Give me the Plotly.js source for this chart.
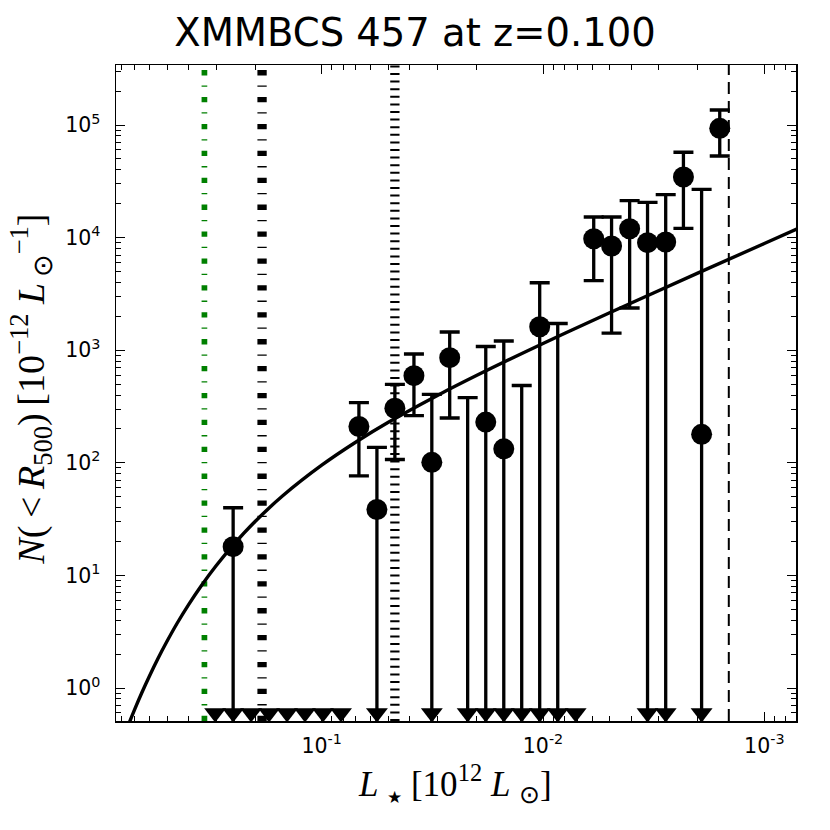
<!DOCTYPE html>
<html><head><meta charset="utf-8">
<script src="https://cdn.plot.ly/plotly-3.0.1.min.js"></script>
<style>html,body{margin:0;padding:0;background:#fff}</style>
</head><body>
<div id="chart" style="width:830px;height:830px"></div>
<script>
// ---- data ----
const titleText = 'XMMBCS 457 at z=0.100';

// bins drawn only as a down-pointing triangle at the floor of the plot
const triangleX = [0.303, 0.2513, 0.2085, 0.1729, 0.1434, 0.119, 0.0987, 0.0818,
                   0.0563, 0.0318, 0.0219, 0.01814, 0.01504, 0.01248, 0.01035,
                   0.00858, 0.00712, 0.00337, 0.00279, 0.00192];
const floorLevel = 0.6;

// measured points (circle) with upper / lower error ends (0 = bar runs to the floor)
const pointX    = [0.2513, 0.0679, 0.0563, 0.0467, 0.0383, 0.0318, 0.0264, 0.01814, 0.01504,
                   0.01035, 0.0059, 0.0049, 0.00406, 0.00337, 0.00279, 0.00232, 0.00192, 0.00159];
const pointY    = [18.0, 210, 38.5, 305, 594, 101, 858, 230, 133,
                   1617, 9775, 8420, 11990, 9020, 9140, 34520, 179, 93500];
const pointHigh = [39.9, 342, 137, 498, 925, 406, 1452, 1079, 1207,
                   3975, 15240, 15240, 21270, 20570, 24040, 57270, 26850, 135900];
const pointLow  = [0, 76.7, 0, 107, 262, 0, 250, 0, 0,
                   0, 4143, 1421, 2370, 0, 0, 12100, 0, 53070];

// upper limits only (no circle)
const limitX    = [0.0219, 0.01248, 0.00858];
const limitHigh = [379, 486, 1726];

// model curve
const modelX = [0.78, 0.75, 0.7, 0.65, 0.6, 0.55, 0.5, 0.45, 0.4, 0.35, 0.3, 0.25, 0.2, 0.15,
                0.1, 0.07, 0.05, 0.03, 0.02, 0.01, 0.005, 0.002, 0.001, 0.0007];
const modelY = [0.378, 0.462, 0.646, 0.908, 1.28, 1.82, 2.60, 3.76, 5.48, 8.11, 12.2, 18.8, 30.1, 50.9,
                95.2, 153, 229, 397, 596, 1148, 2151, 4836, 8863, 12090];

// vertical reference lines
const greenLineX   = 0.3388;
const dashDotLineX = 0.186;
const dottedLineX  = 0.0467;
const dashedLineX  = 0.001447;

const xTickVals = [0.1, 0.01, 0.001];
const xTickText = ['10<sup>-1</sup>', '10<sup>-2</sup>', '10<sup>-3</sup>'];
const yTickVals = [1, 10, 100, 1000, 10000, 100000];
const yTickText = ['10<sup>0</sup>', '10<sup>1</sup>', '10<sup>2</sup>', '10<sup>3</sup>', '10<sup>4</sup>', '10<sup>5</sup>'];

// ---- build ----
function minorVals(d0, d1) {
  const out = [];
  for (let d = d0; d <= d1; d++) for (let k = 2; k <= 9; k++) out.push(k * Math.pow(10, d));
  return out;
}

const errUp = pointY.map((v, i) => pointHigh[i] - v);
const errDn = pointY.map((v, i) => v - pointLow[i]);

const traces = [
  {x: modelX, y: modelY, mode: 'lines', line: {color: '#000', width: 3.4, shape: 'spline'}, hoverinfo: 'skip'},
  {x: limitX, y: limitX.map(() => floorLevel), mode: 'markers',
   marker: {color: 'rgba(0,0,0,0)', size: 1},
   error_y: {type: 'data', symmetric: false, array: limitHigh.map(v => v - floorLevel),
             arrayminus: limitX.map(() => floorLevel), color: '#000', thickness: 3.3, width: 10}},
  {x: triangleX, y: triangleX.map(() => floorLevel), mode: 'markers',
   marker: {symbol: 'triangle-down', size: 19, color: '#000'}},
  {x: pointX, y: pointY, mode: 'markers',
   marker: {symbol: 'circle', size: 21, color: '#000'},
   error_y: {type: 'data', symmetric: false, array: errUp, arrayminus: errDn,
             color: '#000', thickness: 3.3, width: 10}}
];

function vline(x, color, width, dash) {
  return {type: 'line', xref: 'x', yref: 'paper', x0: x, x1: x, y0: 0, y1: 1,
          layer: 'below', line: {color: color, width: width, dash: dash}};
}

const axisCommon = {
  type: 'log', showgrid: false, zeroline: false,
  showline: true, linecolor: '#000', linewidth: 1.5, mirror: 'allticks',
  ticks: 'inside', ticklen: 9, tickwidth: 1, tickcolor: '#000',
  tickfont: {family: 'DejaVu Sans', size: 20.5, color: '#000'}
};

const layout = {
  width: 830, height: 830,
  paper_bgcolor: '#fff', plot_bgcolor: '#fff',
  margin: {l: 116, r: 34, t: 65, b: 109},
  showlegend: false,
  title: {text: titleText, x: 0.5, xref: 'container', xanchor: 'center',
          y: 1 - 33 / 830, yref: 'container', yanchor: 'middle',
          font: {family: 'DejaVu Sans', size: 38.5, color: '#000'}},
  xaxis: Object.assign({}, axisCommon, {
    range: [-0.0705, -3.1432], tickmode: 'array', tickvals: xTickVals, ticktext: xTickText,
    ticklabelstandoff: 6,
    minor: {tickmode: 'array', tickvals: minorVals(-4, 0), ticks: 'inside', ticklen: 5, tickwidth: 1, tickcolor: '#000', showgrid: false}
  }),
  yaxis: Object.assign({}, axisCommon, {
    range: [-0.293, 5.533], tickmode: 'array', tickvals: yTickVals, ticktext: yTickText,
    ticklabelstandoff: 10,
    minor: {tickmode: 'array', tickvals: minorVals(-1, 5), ticks: 'inside', ticklen: 5, tickwidth: 1, tickcolor: '#000', showgrid: false}
  }),
  shapes: [
    vline(greenLineX, '#008000', 5.7, '5.3px,10.3px,1.3px,10px'),
    vline(dashDotLineX, '#000', 9.3, '5.3px,10.3px,1.3px,10px'),
    vline(dottedLineX, '#000', 9.3, '2px,5.6px'),
    vline(dashedLineX, '#000', 2, '12px,7px')
  ],
  annotations: [
    {text: '<i>L</i>&nbsp;<sub><span style="font-size:17px">★</span></sub>&nbsp;[10<sup>12</sup>&nbsp;<i>L</i>&nbsp;<sub>⊙</sub>]',
     xref: 'paper', yref: 'paper',
     x: (455 - 116) / 680, y: (721 - 783) / 656, xanchor: 'center', yanchor: 'middle', showarrow: false,
     font: {family: 'Liberation Serif', size: 35, color: '#000'}},
    {text: '<i>N</i>(&#8201;&lt;&#8201;<i>R</i><sub>500</sub>)&#8201;[10<sup>−12</sup>&nbsp;<i>L</i><sub>&#8201;⊙</sub><sup>−1</sup>]',
     xref: 'paper', yref: 'paper', textangle: -90,
     x: (31 - 116) / 680, y: 0.505, xanchor: 'center', yanchor: 'middle', showarrow: false,
     font: {family: 'Liberation Serif', size: 38, color: '#000'}}
  ]
};

Plotly.newPlot('chart', traces, layout, {staticPlot: true, displayModeBar: false});
</script>
</body></html>
